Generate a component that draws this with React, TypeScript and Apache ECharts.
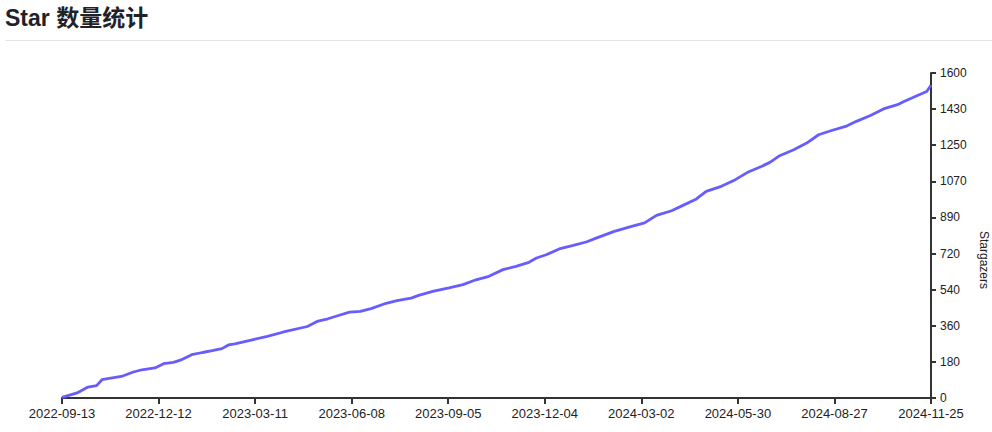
import React, { useEffect, useRef } from "react";
import * as echarts from "echarts";

// Days elapsed since 2022-09-13 and cumulative stargazer counts
const dayOffsets = [
  0, 14, 24, 32, 37, 45, 55, 66, 74, 86, 94, 103, 111, 120, 130, 139, 148, 154, 160,
  174, 190, 205, 227, 236, 246, 255, 266, 276, 286, 298, 310, 323, 330, 343, 358, 371,
  383, 395, 408, 420, 432, 439, 448, 460, 473, 485, 496, 511, 527, 539, 550, 564, 576,
  587, 596, 610, 623, 635, 647, 655, 664, 677, 689, 700, 712, 725, 735, 748, 760, 773,
  779, 791, 800, 804,
];
const stargazers = [
  3, 25, 54, 61, 90, 98, 106, 128, 139, 148, 169, 175, 189, 213, 224, 233, 243, 261, 267,
  284, 303, 325, 352, 377, 390, 405, 423, 426, 440, 463, 479, 492, 505, 525, 542, 558,
  582, 599, 632, 648, 668, 689, 705, 734, 751, 768, 791, 820, 845, 862, 899, 922, 952,
  980, 1017, 1042, 1075, 1113, 1140, 1160, 1193, 1222, 1255, 1296, 1317, 1337, 1362, 1391, 1423, 1444,
  1460, 1488, 1509, 1540,
];

const xTickLabels = [
  "2022-09-13", "2022-12-12", "2023-03-11", "2023-06-08", "2023-09-05",
  "2023-12-04", "2024-03-02", "2024-05-30", "2024-08-27", "2024-11-25",
];
const yTickLabels = ["0", "180", "360", "540", "720", "890", "1070", "1250", "1430", "1600"];

const totalDays = 804;
const yMax = 1600;

const FONT = "'Helvetica Neue', Helvetica, 'Liberation Sans', Arial, 'Noto Sans CJK SC', sans-serif";
const LINE_COLOR = "#675dff";
const AXIS_COLOR = "#333333";

export default function App() {
  const ref = useRef<HTMLDivElement>(null);

  useEffect(() => {
    document.body.style.margin = "0";
    const chart = echarts.init(ref.current!, null, { renderer: "svg" });
    const xStep = totalDays / (xTickLabels.length - 1);
    const yStep = yMax / (yTickLabels.length - 1);
    const xTickValues = xTickLabels.map((_, i) => xStep * i);
    const yTickValues = yTickLabels.map((_, i) => yStep * i);

    chart.setOption({
      animation: false,
      grid: { left: 62, right: 61, top: 73, bottom: 34, containLabel: false },
      xAxis: {
        type: "value",
        min: 0,
        max: totalDays,
        axisLine: { onZero: false, lineStyle: { color: AXIS_COLOR, width: 2 } },
        axisTick: { customValues: xTickValues, length: 6, lineStyle: { color: AXIS_COLOR, width: 2 } },
        axisLabel: {
          customValues: xTickValues,
          margin: 9,
          fontSize: 13,
          fontFamily: FONT,
          color: "#222",
          formatter: (v: number) => xTickLabels[Math.round(v / xStep)],
        },
        splitLine: { show: false },
      },
      yAxis: {
        type: "value",
        position: "right",
        min: 0,
        max: yMax,
        axisLine: { show: true, onZero: false, lineStyle: { color: AXIS_COLOR, width: 2 } },
        axisTick: { show: true, customValues: yTickValues, length: 5, lineStyle: { color: AXIS_COLOR, width: 2 } },
        axisLabel: {
          customValues: yTickValues,
          margin: 9,
          fontSize: 12,
          fontFamily: FONT,
          color: "#222",
          formatter: (v: number) => yTickLabels[Math.round(v / yStep)],
        },
        splitLine: { show: false },
      },
      series: [
        {
          type: "line",
          data: dayOffsets.map((d, i) => [d, stargazers[i]]),
          showSymbol: false,
          symbol: "none",
          lineStyle: { color: LINE_COLOR, width: 2.8 },
          itemStyle: { color: LINE_COLOR },
        },
      ],
      graphic: [
        {
          type: "text",
          x: 5,
          y: 18,
          style: {
            text: "Star 数量统计",
            fontSize: 23,
            fontWeight: "bold",
            fontFamily: FONT,
            fill: "#1f2328",
            verticalAlign: "middle",
            align: "left",
          },
        },
        {
          type: "line",
          shape: { x1: 5, y1: 40.5, x2: 992, y2: 40.5 },
          style: { stroke: "#e3e5e8", lineWidth: 1 },
        },
        {
          type: "text",
          x: 984,
          y: 260,
          rotation: -Math.PI / 2,
          style: {
            text: "Stargazers",
            fontSize: 12,
            fontFamily: FONT,
            fill: "#222",
            align: "center",
            verticalAlign: "middle",
          },
        },
      ],
    });
    return () => chart.dispose();
  }, []);

  return <div ref={ref} style={{ width: 992, height: 432 }} />;
}
